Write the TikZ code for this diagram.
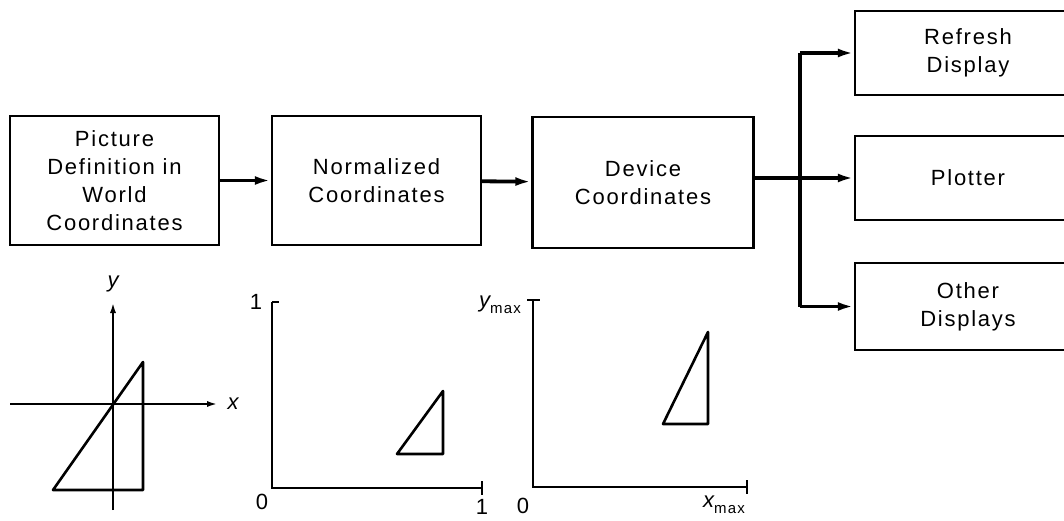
\documentclass[tikz,border=0pt]{standalone}
\usepackage{fontspec}
\setmainfont[LetterSpace=8]{Liberation Sans}
\usetikzlibrary{arrows.meta}

\begin{document}
\begin{tikzpicture}[
    x=1pt, y=-1pt,
    % Estilo para los bloques
    bloque/.style={
        draw=black,
        line width=2.4pt,
        align=center,
        inner sep=0pt,
        font=\fontsize{22}{28}\selectfont
    },
    % Estilo para las flechas de flujo (gruesas)
    flechaFlujo/.style={
        -{Latex[length=16pt,width=9pt]},
        line width=3.8pt
    },
    % Estilo para los ejes
    eje/.style={
        line width=2.2pt
    },
    ejeFlecha/.style={
        eje,
        -{Latex[length=11pt,width=6pt]}
    },
    % Estilo para los triangulos
    triangulo/.style={
        line width=2.6pt,
        line join=round
    },
    % Estilo para los rotulos de los ejes
    rotulo/.style={
        inner sep=0pt,
        font=\fontsize{22}{24}\selectfont
    }
]

    \useasboundingbox (0,0) rectangle (1064,521);

    % --- BLOQUES DE COORDENADAS ---
    \node[bloque, minimum width=209pt, minimum height=129pt] (mundo) at (114.5,180.5)
        {Picture\\Definition in\\World\\Coordinates};
    \node[bloque, minimum width=209pt, minimum height=129pt] (norm) at (376.5,180.5)
        {Normalized\\Coordinates};
    \node[bloque, minimum width=221pt, minimum height=131pt] (disp) at (643,182.5)
        {Device\\Coordinates};

    % --- DISPOSITIVOS DE SALIDA (cortados en el borde derecho) ---
    \node[bloque, minimum width=226pt, minimum height=84pt] (refresco) at (968,53)
        {Refresh\\Display};
    \node[bloque, minimum width=226pt, minimum height=84pt] (plotter) at (968,178)
        {Plotter};
    \node[bloque, minimum width=226pt, minimum height=87pt] (otros) at (968,306.5)
        {Other\\Displays};

    % --- FLUJO ENTRE BLOQUES ---
    \draw[flechaFlujo] (mundo) -- (norm);
    \draw[flechaFlujo] (norm) -- (disp);

    % --- RAMIFICACION HACIA LOS DISPOSITIVOS ---
    \coordinate (rama) at (800,0);
    \draw[line width=4.2pt] (rama |- refresco.west) -- (rama |- otros.west);
    \draw[flechaFlujo] (disp.east |- plotter.west) -- (plotter.west);
    \draw[flechaFlujo] (rama |- refresco.west) -- (refresco.west);
    \draw[flechaFlujo] (rama |- otros.west) -- (otros.west);

    % --- EJES DEL MUNDO ---
    \coordinate (origen) at (113,404);
    \draw[ejeFlecha] (10,404) -- (218,404);
    \draw[ejeFlecha] (113,510) -- (113,302);
    \node[rotulo] (ejeX) at (233,404) {\itshape x};
    \node[rotulo] (ejeY) at (113,284) {\itshape y};
    \draw[triangulo] (53,490) -- (143,490) -- (143,362) -- cycle;

    % --- EJES NORMALIZADOS ---
    \draw[eje] (272,302) -- (272,488) -- (482,488);
    \draw[eje] (272,302) -- (279,302);
    \draw[eje] (482,481) -- (482,495);
    \node[rotulo] (unoY) at (256,302) {1};
    \node[rotulo] (ceroN) at (262,502) {0};
    \node[rotulo] (unoX) at (482,507) {1};
    \draw[triangulo] (397,454) -- (443,454) -- (443,391) -- cycle;

    % --- EJES DEL DISPOSITIVO ---
    \draw[eje] (533,300) -- (533,487) -- (747,487);
    \draw[eje] (527,300) -- (540,300);
    \draw[eje] (747,480) -- (747,494);
    \node[rotulo, anchor=east] (yMax) at (521,305)
        {\itshape y\upshape\fontsize{15}{15}\selectfont\raisebox{-6pt}{max}};
    \node[rotulo] (ceroD) at (523,506) {0};
    \node[rotulo] (xMax) at (724,505)
        {\itshape x\upshape\fontsize{15}{15}\selectfont\raisebox{-6pt}{max}};
    \draw[triangulo] (663,424) -- (708,424) -- (708,332) -- cycle;

\end{tikzpicture}
\end{document}
